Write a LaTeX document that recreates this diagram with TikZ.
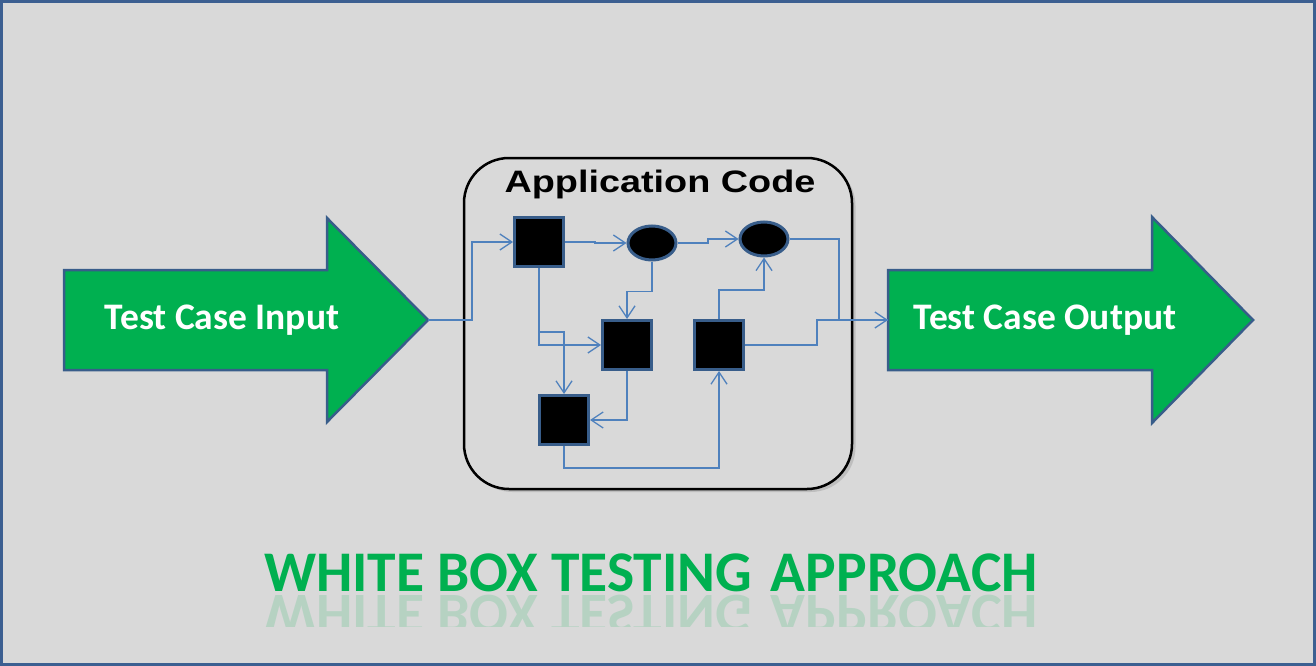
\documentclass[tikz,border=0pt]{standalone}
\usepackage{fontspec}
\setmainfont{Carlito}
\newfontfamily\arialb{Liberation Sans}
\usetikzlibrary{arrows.meta,shapes.geometric,shadows}
\definecolor{bg}{HTML}{D9D9D9}
\definecolor{frame}{HTML}{3C5F91}
\definecolor{grn}{HTML}{00B050}
\definecolor{nodeedge}{HTML}{385D8A}
\definecolor{wirec}{HTML}{4F81BD}
\begin{document}
\begin{tikzpicture}[x=1pt,y=-1pt,
  bigarrow/.style={fill=grn,draw=nodeedge,line width=2.5pt,line join=miter},
  blk/.style={rectangle,fill=black,draw=nodeedge,line width=3pt,minimum width=49pt,minimum height=49pt,inner sep=0pt},
  oval/.style={ellipse,fill=black,draw=nodeedge,line width=3pt,minimum width=48pt,minimum height=34pt,inner sep=0pt},
  wire/.style={draw=wirec,line width=1.3pt},
  flow/.style={wire,-{Straight Barb[length=12pt,width=16pt,line width=1.3pt]}},
  lbl/.style={text=white,font=\bfseries\fontsize{37.5}{44}\selectfont,inner sep=0pt},
  ttl/.style={text=grn,font=\bfseries\fontsize{57.5}{68}\selectfont,inner sep=0pt}]
% background
\fill[bg] (0,0) rectangle (1316,666);
\useasboundingbox (0,0) rectangle (1316,666);
% big arrows
\draw[bigarrow] (64,270) -- (327,270) -- (327,218) -- (428,320) -- (327,422) -- (327,370) -- (64,370) -- cycle;
\coordinate (inTip) at (428,320);
\node[lbl] (inlbl) at (222,320) {Test Case Input};
\draw[bigarrow] (888,270) -- (1152,270) -- (1152,217) -- (1253,320) -- (1152,423) -- (1152,370) -- (888,370) -- cycle;
\coordinate (outL) at (888,320);
\node[lbl] (outlbl) at (1045,320) {Test Case Output};
% application box
\node[draw=black,fill=bg,line width=2.5pt,rounded corners=45pt,minimum width=388pt,minimum height=331pt,
  drop shadow={opacity=0.3,shadow xshift=3.5pt,shadow yshift=-3pt}] (app) at (658,323.5) {};
\node[font=\arialb\bfseries\fontsize{31}{36}\selectfont,inner sep=0pt,xscale=1.22] (apptitle) at (660,184) {Application Code};
% inner nodes
\node[blk] (s1) at (539,242) {};
\node[oval] (e1) at (652,243) {};
\node[oval] (e2) at (764,239) {};
\node[blk] (s2) at (627,345) {};
\node[blk] (s3) at (719,345) {};
\node[blk] (s4) at (564,420) {};
% connectors
\draw[flow] (inTip) -- (472,320) |- (s1.west);
\draw[flow] (s1.east) -| (595,243) -- (e1.west);
\draw[flow] (e1.east) -| (708,239) -- (e2.west);
\draw[flow] (e1.south) -- ++(0,30) -| (s2.north);
\draw[flow] (s1.south) |- (s2.west);
\path (s1.south) ++(0,64) coordinate (br);
\draw[flow] (br) -| (s4.north);
\draw[flow] (s2.south) |- (s4.east);
\draw[flow] (s4.south) -- ++(0,22) -| (s3.south);
\draw[flow] (s3.north) -- ++(0,-29) -| (e2.south);
\draw[flow] (e2.east) -| (839,320) -- (outL);
\draw[wire] (s3.east) -| (817,320) -- (outL);
% title with reflection
\node[ttl] (title) at (651,573) {WHITE BOX TESTING\hspace{0.1em} APPROACH};
\begin{scope}
\clip (240,594) rectangle (1060,626);
\node[ttl,text opacity=0.16,yscale=-1] (refl) at (651,614) {WHITE BOX TESTING\hspace{0.1em} APPROACH};
\end{scope}
% frame
\draw[frame,line width=3pt] (1.5,1.5) rectangle (1314.5,664.5);
\end{tikzpicture}
\end{document}
